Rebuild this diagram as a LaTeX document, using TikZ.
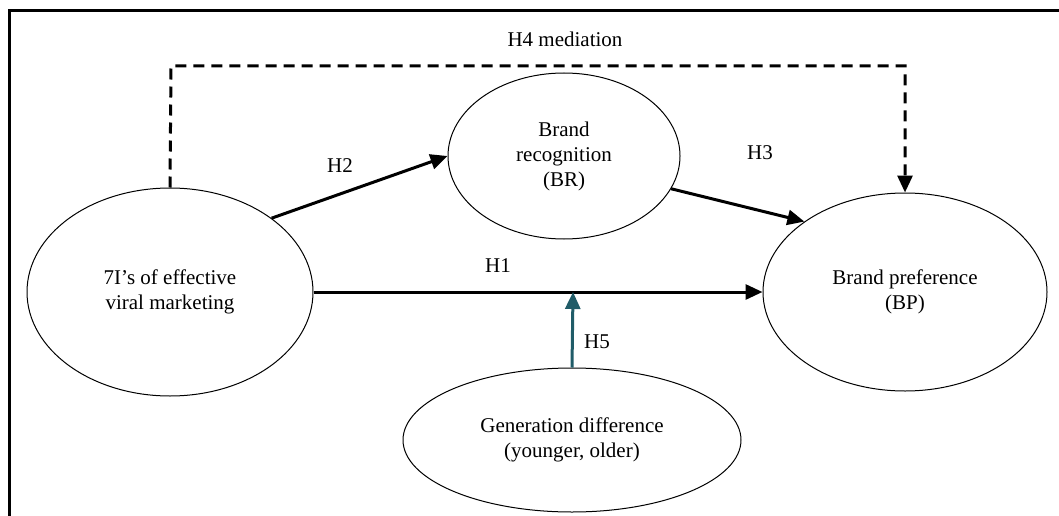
\documentclass[tikz,border=0pt]{standalone}
\usepackage{fontspec}
\setmainfont{Liberation Serif}
\newfontfamily\tnr{Liberation Serif}
\usetikzlibrary{shapes.geometric,arrows.meta}
\definecolor{teal5}{RGB}{32,92,104}
\tikzset{
  oval/.style={ellipse, draw, line width=1pt, inner sep=0pt, align=center, font=\tnr\fontsize{21}{25}\selectfont},
  conn/.style={line width=3pt, -{Triangle[length=17pt,width=15pt]}},
  dconn/.style={conn, dash pattern=on 11pt off 7pt},
  lbl/.style={font=\tnr\fontsize{21}{25}\selectfont, inner sep=0pt}
}
\begin{document}
\begin{tikzpicture}[x=1pt,y=-1pt]
\useasboundingbox (0,0) rectangle (1059,516);
\draw[line width=3pt] (1059,11) -- (9,11) -- (9,516);
\node[oval, minimum width=286pt, minimum height=208pt] (L) at (170,292) {7I’s of effective\\viral marketing};
\node[oval, minimum width=232pt, minimum height=166pt] (BR) at (564,156) {Brand\\recognition\\(BR)};
\node[oval, minimum width=284pt, minimum height=198pt] (BP) at (905,292) {Brand preference\\(BP)};
\node[oval, minimum width=338pt, minimum height=144pt] (GD) at (572,440) {Generation difference\\(younger, older)};
\coordinate (d1) at (171,66);
\coordinate (d2) at (905,66);
\coordinate (m) at (573,292);
\draw[dconn] (L.north) -- (d1) -- (d2) -- (BP.north);
\draw[conn] (L.36) -- (BR.west);
\draw[conn] (BR.-17) -- (BP.145);
\draw[conn] (L.east) -- (BP.west);
\draw[conn, teal5] (GD.north) -- (m);
\node[lbl, anchor=base] (h4) at (565,47) {H4 mediation};
\node[lbl] (h2) at (340,166) {H2};
\node[lbl] (h3) at (760,153) {H3};
\node[lbl] (h1) at (498,266) {H1};
\node[lbl] (h5) at (597,342) {H5};
\end{tikzpicture}
\end{document}
